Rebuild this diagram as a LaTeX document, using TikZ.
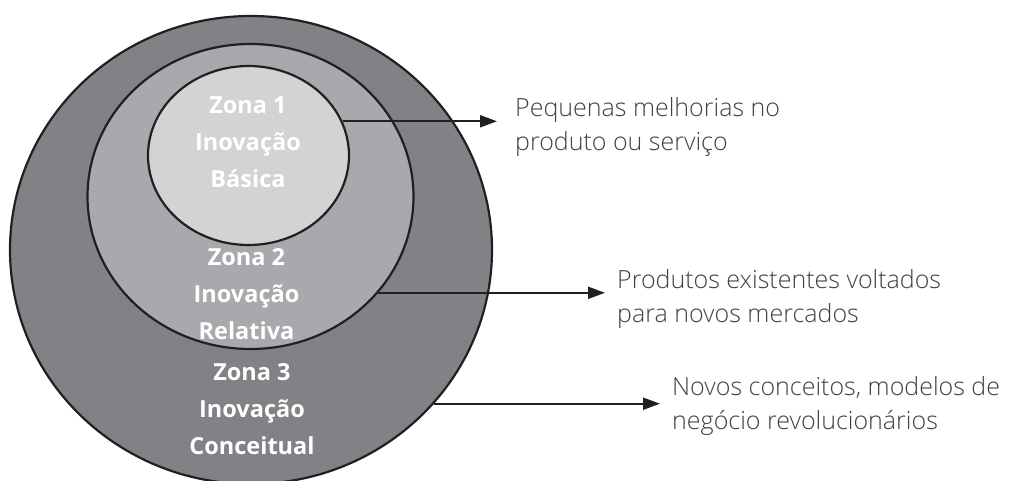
\documentclass[tikz,border=0pt]{standalone}
\usepackage{fontspec}
\IfFontExistsTF{Open Sans Light}{\newfontfamily\labelfont{Open Sans Light}}{\newfontfamily\labelfont{Open Sans}}
\newfontfamily\zonefont{Open Sans}
\usetikzlibrary{shapes.geometric,arrows.meta}
\definecolor{ringA}{HTML}{808285}
\definecolor{ringB}{HTML}{A7A9AC}
\definecolor{ringC}{HTML}{D1D3D4}
\definecolor{inkline}{HTML}{231F20}
\definecolor{inktext}{HTML}{414042}
\tikzset{
  zone/.style={ellipse, draw=inkline, line width=2.2pt, inner sep=0pt},
  zonetext/.style={text=white, align=center, anchor=base, inner sep=0pt,
    font=\zonefont\bfseries\fontsize{23.5}{37}\selectfont},
  desc/.style={text=inktext, align=left, anchor=base west, inner sep=0pt,
    font=\labelfont\fontsize{25}{34}\selectfont},
  arr/.style={draw=inkline, line width=2pt, -{Triangle[length=17pt,width=12pt]}}
}
\begin{document}
\begin{tikzpicture}[x=1pt,y=-1pt]
\useasboundingbox (0,0) rectangle (1031,480);
\begin{scope}
\clip (0,0) rectangle (1031,480);
\node[zone, fill=ringA, minimum width=482pt, minimum height=468pt] (outer) at (251,250) {};
\node[zone, fill=ringB, minimum width=326pt, minimum height=305pt] (middle) at (250.5,196.5) {};
\node[zone, fill=ringC, minimum width=201pt, minimum height=179pt] (inner) at (248.5,155.5) {};
\end{scope}
\node[zonetext] (z1) at (248,187) {Zona 1\\Inovação\\Básica};
\node[zonetext] (z2) at (246.5,339) {Zona 2\\Inovação\\Relativa};
\node[zonetext] (z3) at (252,454) {Zona 3\\Inovação\\Conceitual};
\coordinate (t1) at (497,121);
\coordinate (t2) at (605,293);
\coordinate (t3) at (660,401);
\draw[arr] (inner.20.4) -- (inner.20.4 -| t1);
\draw[arr] (middle.-37.8) -- (middle.-37.8 -| t2);
\draw[arr] (outer.-40) -- (outer.-40 -| t3);
\node[desc] (d1) at (515,150) {Pequenas melhorias no\\produto ou serviço};
\node[desc] (d2) at (617,322) {Produtos existentes voltados\\para novos mercados};
\node[desc] (d3) at (672,429) {Novos conceitos, modelos de\\negócio revolucionários};
\end{tikzpicture}
\end{document}
